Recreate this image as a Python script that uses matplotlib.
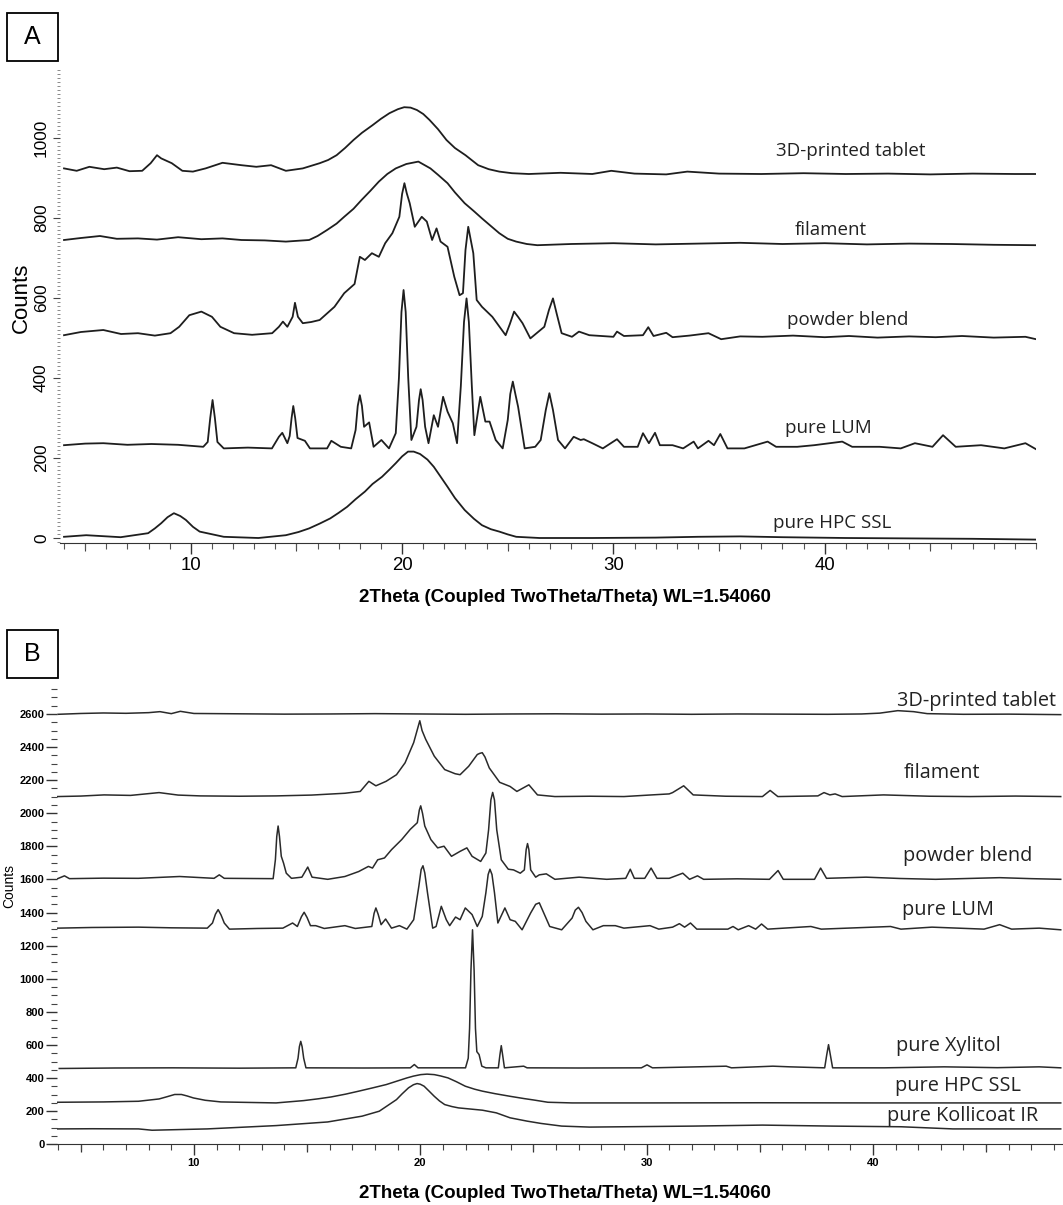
import numpy as np
import matplotlib
matplotlib.use("Agg")
import matplotlib.pyplot as plt
from matplotlib.ticker import MultipleLocator, FixedLocator
from matplotlib.patches import Rectangle

# ---- panel A: (2theta, counts) points ----
a_tablet = [(4.0, 924), (4.6, 918), (5.2, 928), (5.9, 922), (6.5, 926), (7.1, 917), (7.7, 918),
            (8.1, 937), (8.4, 957), (8.6, 949), (9.1, 937), (9.6, 918), (10.1, 916), (10.7, 924),
            (11.5, 938), (12.4, 932), (13.1, 928), (13.8, 932), (14.5, 918), (15.3, 924), (16.1, 937),
            (16.5, 945), (16.9, 957), (17.3, 975), (17.7, 995), (18.1, 1013), (18.6, 1032), (19.0, 1048),
            (19.4, 1062), (19.8, 1072), (20.1, 1077), (20.4, 1076), (20.7, 1070), (21.0, 1060),
            (21.3, 1045), (21.7, 1022), (22.1, 995), (22.5, 975), (23.0, 957), (23.6, 932), (24.1, 922),
            (24.6, 916), (25.2, 912), (26.0, 910), (27.5, 913), (29.0, 910), (29.9, 918), (31.0, 911),
            (32.5, 909), (33.5, 916), (35.0, 911), (37.0, 910), (39.0, 912), (41.0, 910), (43.0, 911),
            (45.0, 909), (47.0, 911), (49.0, 910), (50.0, 910)]

a_filament = [(4.0, 745), (4.8, 750), (5.7, 755), (6.5, 748), (7.5, 749), (8.4, 746), (9.4, 752),
              (10.5, 747), (11.5, 749), (12.4, 745), (13.5, 744), (14.5, 741), (15.6, 745), (16.0, 755),
              (16.45, 770), (16.9, 786), (17.26, 803), (17.7, 823), (18.08, 845), (18.5, 868),
              (18.9, 891), (19.3, 910), (19.7, 924), (20.2, 935), (20.77, 941), (21.34, 924),
              (21.7, 908), (22.15, 887), (22.5, 864), (22.96, 837), (23.4, 817), (23.78, 799),
              (24.2, 780), (24.6, 762), (25.0, 748), (25.4, 741), (25.9, 735), (26.4, 732), (28, 735),
              (30, 737), (32, 734), (34, 736), (36, 738), (38, 735), (40, 737), (42, 734), (44, 736),
              (46, 735), (48, 733), (50, 732)]

a_blend = [(4.0, 507), (4.8, 515), (5.86, 520), (6.7, 510), (7.5, 512), (8.3, 506), (9.04, 512),
           (9.45, 528), (9.93, 557), (10.5, 566), (11.0, 553), (11.4, 528), (12.05, 512), (12.9, 508),
           (13.85, 512), (14.17, 528), (14.36, 541), (14.57, 528), (14.82, 553), (14.93, 588),
           (15.07, 553), (15.3, 537), (15.7, 540), (16.1, 545), (16.8, 578), (17.26, 612), (17.75, 635),
           (18.0, 703), (18.24, 695), (18.57, 712), (18.9, 703), (19.2, 737), (19.54, 762), (19.87, 803),
           (20.0, 860), (20.11, 887), (20.22, 862), (20.36, 837), (20.6, 778), (20.93, 803), (21.17, 791),
           (21.42, 745), (21.63, 774), (21.82, 741), (22.15, 728), (22.47, 653), (22.72, 607),
           (22.88, 612), (23.0, 720), (23.13, 778), (23.25, 745), (23.37, 712), (23.53, 595),
           (23.78, 578), (24.27, 553), (24.9, 507), (25.1, 535), (25.3, 566), (25.5, 552), (25.7, 537),
           (26.07, 499), (26.73, 528), (26.95, 570), (27.14, 599), (27.32, 560), (27.55, 512),
           (28.04, 503), (28.37, 516), (28.86, 507), (30.0, 503), (30.17, 516), (30.5, 505),
           (31.4, 507), (31.65, 527), (31.9, 505), (32.5, 513), (32.8, 502), (33.6, 506), (34.5, 512),
           (35.1, 497), (36.0, 504), (37.05, 503), (38.5, 506), (40.0, 502), (41.15, 505), (42.5, 501),
           (44.0, 504), (45.25, 502), (46.5, 505), (48.0, 501), (49.5, 503), (50.0, 497)]

a_lum = [(4.0, 232), (5.0, 236), (5.86, 237), (7.0, 233), (8.14, 235), (9.4, 233), (10.59, 228),
         (10.8, 240), (10.92, 300), (11.03, 345), (11.14, 300), (11.26, 240), (11.56, 224), (12.7, 226),
         (13.84, 224), (14.17, 253), (14.33, 263), (14.57, 237), (14.68, 255), (14.77, 300),
         (14.85, 330), (14.94, 300), (15.05, 250), (15.4, 243), (15.64, 224), (16.45, 224),
         (16.65, 243), (17.1, 228), (17.59, 224), (17.8, 270), (17.9, 330), (18.0, 357), (18.1, 330),
         (18.2, 278), (18.44, 289), (18.65, 228), (19.02, 245), (19.38, 224), (19.7, 262), (19.85, 400),
         (19.97, 565), (20.07, 620), (20.17, 565), (20.29, 400), (20.44, 245), (20.68, 278),
         (20.8, 345), (20.88, 372), (20.97, 345), (21.09, 278), (21.25, 237), (21.5, 307), (21.7, 278),
         (21.94, 353), (22.15, 316), (22.4, 287), (22.6, 237), (22.78, 380), (22.93, 540),
         (23.05, 599), (23.16, 540), (23.3, 380), (23.42, 257), (23.7, 353), (23.94, 291),
         (24.14, 291), (24.43, 245), (24.76, 224), (25.0, 295), (25.12, 360), (25.24, 391),
         (25.36, 360), (25.49, 328), (25.8, 224), (26.3, 228), (26.56, 245), (26.8, 320), (26.97, 362),
         (27.14, 320), (27.38, 245), (27.71, 224), (28.12, 253), (28.45, 245), (28.6, 247), (29.0, 237),
         (29.5, 224), (30.17, 247), (30.5, 228), (31.15, 228), (31.4, 262), (31.68, 237), (31.97, 263),
         (32.2, 232), (32.8, 232), (33.3, 224), (33.8, 241), (34.0, 224), (34.5, 243), (34.76, 232),
         (35.06, 260), (35.4, 224), (36.2, 224), (37.3, 241), (37.7, 228), (38.7, 228), (39.5, 232),
         (40.83, 241), (41.3, 228), (42.6, 228), (43.6, 224), (44.27, 237), (45.1, 228), (45.6, 257),
         (46.2, 228), (47.4, 232), (48.5, 224), (49.5, 237), (50.0, 222)]

a_hpc = [(4.0, 3), (5.05, 7), (6.68, 2), (7.98, 12), (8.3, 24), (8.6, 37), (8.9, 52), (9.2, 62),
         (9.5, 55), (9.77, 45), (10.1, 28), (10.42, 16), (11.56, 3), (13.2, 0), (14.5, 7), (15.1, 15),
         (15.6, 24), (16.1, 36), (16.6, 49), (17.0, 63), (17.4, 78), (17.8, 97), (18.24, 116),
         (18.6, 135), (19.05, 153), (19.4, 171), (19.7, 187), (20.0, 204), (20.28, 216), (20.55, 216),
         (20.85, 210), (21.2, 196), (21.5, 178), (21.8, 155), (22.15, 128), (22.5, 100), (22.96, 70),
         (23.4, 48), (23.78, 32), (24.2, 22), (24.6, 16), (25.0, 9), (25.4, 3), (26.5, 0), (29.0, 0),
         (32.0, 1), (34.0, 3), (36.0, 4), (38.0, 2), (41.0, 0), (44.0, -1), (47.0, -2), (50.0, -4)]

a_names = ["3D-printed tablet", "filament", "powder blend", "pure LUM", "pure HPC SSL"]
a_label_pos = [(37.7, 968), (38.6, 770), (38.23, 545), (38.12, 274), (37.55, 38)]

# ---- panel B ----
b_tablet = [(4.0, 2598), (5.0, 2603), (6.0, 2606), (7.0, 2604), (8.0, 2608), (8.5, 2614), (9.0, 2602),
            (9.4, 2616), (10.0, 2603), (12.0, 2601), (14.0, 2599), (16.0, 2600), (18.0, 2602),
            (20.0, 2600), (22.0, 2598), (24.0, 2600), (26.0, 2601), (28.0, 2599), (30.0, 2600),
            (32.0, 2598), (34.0, 2600), (36.0, 2599), (38.0, 2598), (39.5, 2600), (40.3, 2605),
            (41.1, 2620), (41.8, 2614), (42.4, 2602), (44.0, 2598), (46.0, 2599), (48.3, 2596)]

b_filament = [(3.98, 2101), (5.0, 2104), (6.03, 2111), (7.2, 2108), (8.46, 2125), (9.3, 2110),
              (10.28, 2105), (12.0, 2103), (13.63, 2105), (15.2, 2110), (16.67, 2121), (17.35, 2132),
              (17.73, 2193), (18.04, 2166), (18.49, 2193), (18.95, 2233), (19.33, 2305), (19.71, 2427),
              (19.88, 2510), (19.98, 2559), (20.08, 2500), (20.24, 2447), (20.62, 2345), (21.08, 2264),
              (21.54, 2239), (21.76, 2233), (22.14, 2284), (22.52, 2355), (22.63, 2362), (22.74, 2366),
              (22.86, 2340), (23.05, 2274), (23.51, 2187), (23.97, 2162), (24.27, 2132), (24.8, 2172),
              (25.18, 2111), (25.95, 2101), (27.5, 2103), (29.0, 2101), (30.23, 2111), (31.0, 2117),
              (31.15, 2125), (31.64, 2166), (32.06, 2111), (33.5, 2103), (35.12, 2101), (35.46, 2138),
              (35.8, 2101), (37.57, 2105), (37.84, 2125), (38.1, 2111), (38.33, 2117), (38.64, 2101),
              (40.47, 2111), (42.5, 2103), (44.3, 2101), (46.3, 2104), (48.3, 2101)]

b_blend = [(3.98, 1605), (4.28, 1622), (4.5, 1605), (6.0, 1608), (7.55, 1607), (9.37, 1618),
           (10.89, 1607), (11.12, 1628), (11.34, 1607), (13.5, 1605), (13.6, 1720), (13.66, 1860),
           (13.72, 1923), (13.78, 1860), (13.86, 1740), (13.96, 1699), (14.08, 1638), (14.31, 1607),
           (14.77, 1614), (15.03, 1675), (15.22, 1614), (15.91, 1601), (16.67, 1618), (17.28, 1648),
           (17.71, 1679), (17.89, 1669), (18.12, 1719), (18.42, 1730), (18.73, 1780), (19.18, 1841),
           (19.56, 1903), (19.87, 1943), (19.96, 2020), (20.02, 2045), (20.1, 2000), (20.2, 1923),
           (20.47, 1841), (20.77, 1791), (21.05, 1801), (21.38, 1740), (21.76, 1770), (22.06, 1791),
           (22.29, 1740), (22.67, 1709), (22.9, 1760), (23.02, 1900), (23.12, 2080), (23.2, 2126),
           (23.28, 2080), (23.38, 1900), (23.58, 1719), (23.89, 1662), (24.12, 1658), (24.42, 1638),
           (24.6, 1658), (24.68, 1780), (24.74, 1817), (24.8, 1780), (24.88, 1658), (25.1, 1614),
           (25.26, 1628), (25.57, 1634), (25.95, 1601), (27.02, 1614), (28.24, 1601), (29.08, 1607),
           (29.28, 1662), (29.46, 1607), (29.92, 1607), (30.2, 1669), (30.46, 1607), (31.0, 1607),
           (31.6, 1638), (31.9, 1601), (32.25, 1622), (32.52, 1601), (34.0, 1604), (35.43, 1601),
           (35.81, 1654), (36.04, 1601), (37.42, 1601), (37.69, 1669), (37.95, 1607), (39.7, 1614),
           (41.2, 1606), (42.77, 1601), (45.6, 1611), (47.0, 1605), (48.3, 1601)]

b_lum = [(3.98, 1306), (5.5, 1310), (7.55, 1312), (9.0, 1308), (10.59, 1306), (10.82, 1337),
         (10.95, 1390), (11.07, 1418), (11.2, 1385), (11.34, 1337), (11.57, 1300), (12.8, 1304),
         (13.93, 1306), (14.36, 1337), (14.57, 1316), (14.75, 1375), (14.87, 1402), (15.0, 1370),
         (15.15, 1321), (15.38, 1321), (15.76, 1304), (16.67, 1321), (17.13, 1304), (17.86, 1316),
         (17.96, 1395), (18.04, 1428), (18.14, 1390), (18.27, 1327), (18.47, 1361), (18.73, 1306),
         (19.08, 1321), (19.41, 1300), (19.71, 1357), (19.94, 1561), (20.04, 1660), (20.12, 1683),
         (20.2, 1640), (20.32, 1520), (20.55, 1306), (20.7, 1316), (20.93, 1438), (21.15, 1357),
         (21.3, 1321), (21.56, 1373), (21.76, 1357), (21.99, 1428), (22.29, 1388), (22.52, 1316),
         (22.74, 1377), (22.9, 1520), (23.0, 1630), (23.08, 1662), (23.17, 1630), (23.28, 1520),
         (23.43, 1337), (23.74, 1428), (23.97, 1357), (24.2, 1347), (24.5, 1296), (24.88, 1398),
         (25.1, 1450), (25.26, 1459), (25.45, 1400), (25.72, 1316), (26.25, 1296), (26.71, 1367),
         (26.85, 1415), (26.99, 1432), (27.15, 1400), (27.32, 1347), (27.63, 1296), (28.09, 1321),
         (28.62, 1321), (29.0, 1306), (30.15, 1321), (30.54, 1300), (31.15, 1312), (31.45, 1333),
         (31.68, 1312), (31.94, 1337), (32.22, 1300), (33.59, 1300), (33.82, 1316), (34.05, 1296),
         (34.51, 1321), (34.82, 1300), (35.08, 1331), (35.35, 1300), (37.26, 1316), (37.72, 1300),
         (40.78, 1316), (41.24, 1300), (42.61, 1312), (44.91, 1300), (45.6, 1327), (46.13, 1300),
         (47.35, 1306), (48.3, 1296)]

b_xylitol = [(4.05, 458), (6.5, 461), (9.07, 462), (12.0, 460), (14.5, 462), (14.6, 520), (14.66, 590),
             (14.72, 622), (14.78, 590), (14.85, 520), (14.95, 462), (17.5, 461), (19.56, 462),
             (19.74, 482), (19.9, 462), (22.0, 462), (22.12, 520), (22.18, 700), (22.24, 1050),
             (22.31, 1296), (22.38, 1050), (22.44, 700), (22.5, 560), (22.6, 542), (22.72, 472),
             (22.9, 462), (23.45, 462), (23.52, 540), (23.58, 596), (23.64, 540), (23.72, 462),
             (24.57, 472), (24.72, 462), (27.0, 461), (29.77, 462), (30.02, 480), (30.26, 462),
             (31.6, 466), (33.52, 472), (33.75, 462), (35.58, 472), (36.34, 468), (37.87, 462),
             (37.96, 540), (38.04, 602), (38.12, 540), (38.22, 462), (40.5, 462), (43.15, 468),
             (45.5, 463), (47.35, 468), (48.3, 462)]

b_hpc = [(3.9, 254), (4.05, 254), (6.0, 256), (7.55, 260), (8.46, 274), (8.8, 287), (9.15, 301),
         (9.45, 301), (9.7, 292), (9.98, 280), (10.5, 266), (11.19, 256), (13.63, 250), (14.85, 264),
         (15.5, 275), (16.06, 286), (16.7, 303), (17.28, 321), (17.9, 341), (18.5, 361), (19.0, 383),
         (19.41, 401), (19.7, 412), (20.02, 421), (20.3, 424), (20.62, 421), (20.9, 413), (21.23, 401),
         (21.6, 378), (21.99, 351), (22.4, 333), (22.75, 321), (23.3, 306), (23.97, 290), (24.6, 276),
         (25.0, 268), (25.64, 254), (26.71, 250), (30.0, 250), (35.0, 251), (40.0, 250), (44.0, 250),
         (48.3, 250)]

b_kollicoat = [(3.98, 93), (5.5, 94), (7.55, 93), (8.15, 85), (10.59, 93), (13.63, 113), (15.91, 135),
               (17.43, 170), (18.19, 200), (18.95, 270), (19.2, 305), (19.48, 341), (19.7, 360),
               (19.86, 367), (20.0, 363), (20.17, 351), (20.4, 320), (20.62, 290), (20.85, 262),
               (21.08, 240), (21.4, 228), (21.69, 220), (22.75, 206), (23.36, 190), (23.97, 160),
               (24.72, 140), (25.34, 126), (26.25, 110), (27.48, 104), (32.06, 110), (35.12, 116),
               (38.18, 110), (41.24, 106), (43.53, 93), (48.3, 93)]

b_names = ["3D-printed tablet", "filament", "powder blend", "pure LUM", "pure Xylitol",
           "pure HPC SSL", "pure Kollicoat IR"]
b_label_pos = [(41.05, 2678), (41.36, 2242), (41.31, 1743), (41.27, 1413), (41.01, 592),
               (40.98, 355), (40.63, 170)]

xlabel = "2Theta (Coupled TwoTheta/Theta) WL=1.54060"

plt.rcParams['font.family'] = ['Liberation Sans', 'DejaVu Sans']

W, H = 1063, 1205
def box(x0, y0, x1, y1):  # pixel box -> figure fraction rect
    return [x0 / W, 1 - y1 / H, (x1 - x0) / W, (y1 - y0) / H]

fig = plt.figure(figsize=(W / 100, H / 100), dpi=100)

# ---------------- panel A ----------------
axA = fig.add_axes(box(60, 70, 1036, 543))
for pts in [a_tablet, a_filament, a_blend, a_lum, a_hpc]:
    p = np.array(pts, dtype=float)
    axA.plot(p[:, 0], p[:, 1], color='#1e1e1e', lw=1.3)
for name, (x, y) in zip(a_names, a_label_pos):
    axA.text(x, y, name, family='Open Sans', fontsize=13.5, color='#222222', ha='left', va='center')

axA.set_xlim(3.81, 50.0)
axA.set_ylim(-12.5, 1170)
for s in ['left', 'top', 'right']:
    axA.spines[s].set_visible(False)
axA.spines['bottom'].set_color('#333333')
axA.xaxis.set_major_locator(FixedLocator([10, 20, 30, 40]))
axA.xaxis.set_minor_locator(MultipleLocator(1))
axA.yaxis.set_major_locator(MultipleLocator(200))
axA.yaxis.set_minor_locator(MultipleLocator(10))
axA.tick_params(axis='x', which='major', length=8, width=1.0, labelsize=13.4, pad=2, color='#333333')
axA.tick_params(axis='x', which='minor', length=4, width=0.8, color='#555555')
axA.tick_params(axis='y', which='major', length=5, width=0.8, labelsize=12.4, labelrotation=90, pad=3,
                color='#444444')
axA.tick_params(axis='y', which='minor', length=2.5, width=0.6, color='#777777')
for lab in axA.get_yticklabels():
    lab.set_va('center')
secA = axA.secondary_xaxis('bottom')
secA.set_xticks([5, 15, 25, 35, 45])
secA.tick_params(length=6, width=0.8, labelbottom=False, color='#444444')
secA.spines['bottom'].set_visible(False)

fig.text(21.5 / W, 1 - 298 / H, 'Counts', rotation=90, fontsize=16, ha='center', va='center')
fig.text(565 / W, 1 - 597 / H, xlabel, fontsize=13.5, fontweight='bold', ha='center', va='center')

# ---------------- panel B ----------------
axB = fig.add_axes(box(57, 686, 1063, 1144.3))
for pts in [b_tablet, b_filament, b_blend, b_lum, b_xylitol, b_hpc, b_kollicoat]:
    p = np.array(pts, dtype=float)
    axB.plot(p[:, 0], p[:, 1], color='#2a2a2a', lw=1.1)
for name, (x, y) in zip(b_names, b_label_pos):
    axB.text(x, y, name, family='Open Sans', fontsize=14.3, color='#222222', ha='left', va='center',
             clip_on=False)

axB.set_xlim(3.95, 48.4)
axB.set_ylim(0, 2769)
for s in ['left', 'top', 'right']:
    axB.spines[s].set_visible(False)
axB.spines['bottom'].set_color('#333333')
axB.xaxis.set_major_locator(FixedLocator([10, 20, 30, 40]))
axB.xaxis.set_minor_locator(MultipleLocator(1))
axB.yaxis.set_major_locator(MultipleLocator(200))
axB.yaxis.set_minor_locator(MultipleLocator(50))
axB.tick_params(axis='x', which='major', length=8, width=1.0, labelsize=8, pad=2, color='#333333')
axB.tick_params(axis='x', which='minor', length=4.5, width=0.8, color='#444444')
axB.tick_params(axis='y', which='major', length=8, width=1.0, labelsize=8, pad=1, color='#333333')
axB.tick_params(axis='y', which='minor', length=4.5, width=0.8, color='#444444')
for lab in axB.get_xticklabels() + axB.get_yticklabels():
    lab.set_fontweight('bold')
secB = axB.secondary_xaxis('bottom')
secB.set_xticks([5, 15, 25, 35, 45])
secB.tick_params(length=6, width=0.9, labelbottom=False, color='#333333')
secB.spines['bottom'].set_visible(False)

fig.text(9.5 / W, 1 - 886 / H, 'Counts', rotation=90, fontsize=10, ha='center', va='center')
fig.text(565 / W, 1 - 1193 / H, xlabel, fontsize=13.5, fontweight='bold', ha='center', va='center')

# ---------------- A / B boxes ----------------
for letter, top in [('A', 13), ('B', 630)]:
    fig.add_artist(Rectangle((7 / W, 1 - (top + 48) / H), 51 / W, 48 / H, transform=fig.transFigure,
                             fill=False, lw=1.3, color='black'))
    fig.text(32.5 / W, 1 - (top + 24) / H, letter, fontsize=18, ha='center', va='center')

fig.savefig('out.png', dpi=100)
